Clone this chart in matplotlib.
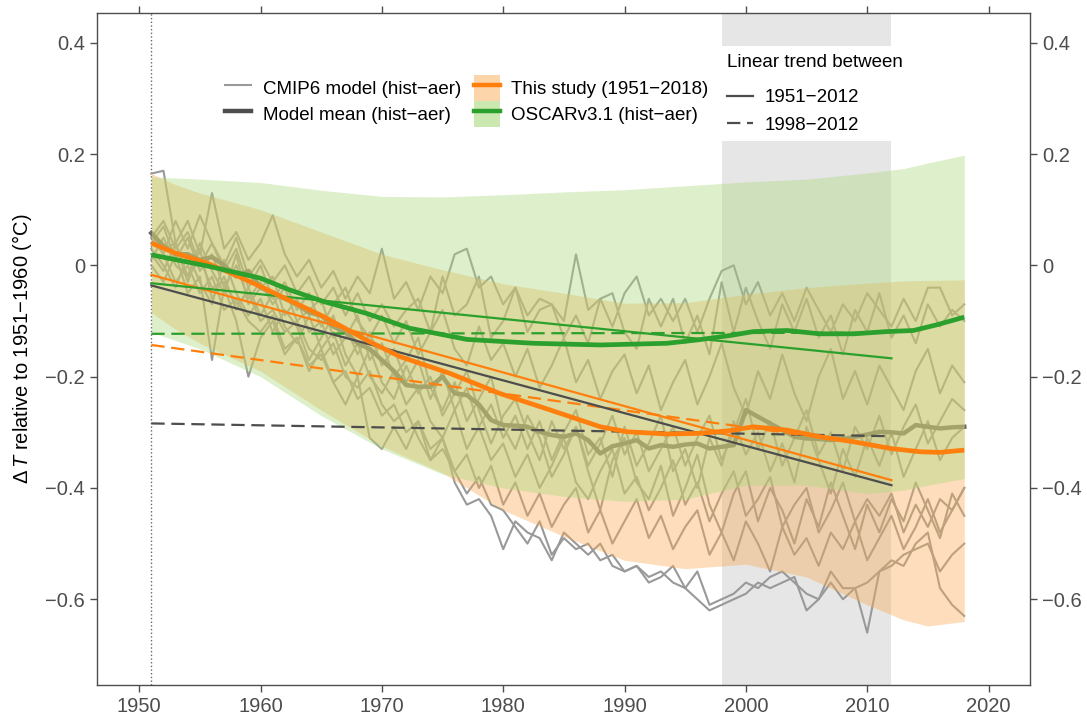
import matplotlib
matplotlib.use("Agg")
import matplotlib.pyplot as plt
import numpy as np
from matplotlib.lines import Line2D
from matplotlib.patches import Patch

plt.rcParams['font.family'] = ['Liberation Sans', 'DejaVu Sans']
plt.rcParams['mathtext.fontset'] = 'custom'
plt.rcParams['mathtext.rm'] = 'Liberation Sans'
plt.rcParams['mathtext.it'] = 'Liberation Sans:italic'

years = np.arange(1951, 2019)

# individual CMIP6 hist-aer runs (rough)
model_a = [0.05, 0.02, -0.03, 0.00, -0.05, -0.02, -0.08, -0.06, -0.10, -0.12,
           -0.09, -0.15, -0.13, -0.18, -0.16, -0.21, -0.19, -0.24, -0.22, -0.27,
           -0.25, -0.30, -0.28, -0.33, -0.31, -0.39, -0.43, -0.42, -0.45, -0.51,
           -0.46, -0.48, -0.49, -0.53, -0.48, -0.50, -0.52, -0.50, -0.54, -0.55,
           -0.54, -0.56, -0.55, -0.57, -0.58, -0.60, -0.62, -0.61, -0.60, -0.59,
           -0.57, -0.58, -0.57, -0.56, -0.62, -0.60, -0.55, -0.58, -0.58, -0.66,
           -0.55, -0.53, -0.54, -0.50, -0.48, -0.58, -0.61, -0.63]
model_b = [0.06, 0.03, 0.04, -0.02, 0.01, -0.04, -0.03, -0.07, -0.05, -0.10,
           -0.08, -0.12, -0.10, -0.15, -0.17, -0.14, -0.20, -0.22, -0.19, -0.25,
           -0.28, -0.26, -0.31, -0.35, -0.33, -0.37, -0.41, -0.38, -0.43, -0.44,
           -0.47, -0.50, -0.46, -0.52, -0.49, -0.51, -0.50, -0.53, -0.52, -0.55,
           -0.54, -0.57, -0.56, -0.54, -0.58, -0.55, -0.61, -0.60, -0.59, -0.57,
           -0.58, -0.56, -0.55, -0.57, -0.59, -0.60, -0.57, -0.60, -0.58, -0.57,
           -0.55, -0.54, -0.52, -0.51, -0.50, -0.55, -0.52, -0.50]
model_c = [0.165, 0.17, 0.04, 0.08, 0.02, 0.13, 0.03, 0.06, 0.01, 0.04,
           0.09, 0.02, -0.02, 0.01, -0.04, -0.01, -0.06, -0.02, -0.05, 0.03,
           -0.06, -0.03, -0.08, -0.02, -0.05, 0.02, 0.03, -0.04, -0.02, -0.07,
           -0.04, -0.09, -0.06, -0.07, -0.10, 0.02, -0.08, -0.06, -0.11, -0.05,
           -0.02, -0.09, -0.06, -0.10, -0.06, -0.12, -0.06, -0.01, 0.00, -0.07,
           -0.03, -0.09, -0.05, -0.10, -0.04, -0.08, -0.12, -0.07, -0.10, -0.05,
           -0.08, -0.11, -0.06, -0.10, -0.04, -0.04, -0.09, -0.07]
model_d = [0.06, 0.02, 0.08, 0.03, 0.09, 0.04, 0.00, 0.05, -0.02, 0.01,
           -0.03, 0.00, -0.05, -0.02, -0.07, -0.04, -0.09, -0.05, -0.10, -0.07,
           -0.11, -0.08, -0.06, -0.12, -0.02, -0.09, -0.07, -0.02, -0.13, -0.10,
           -0.04, -0.12, -0.08, -0.07, -0.13, -0.09, -0.14, -0.06, -0.05, -0.12,
           -0.15, -0.06, -0.11, -0.06, -0.14, -0.09, -0.16, -0.03, -0.12, -0.04,
           -0.10, -0.15, -0.07, -0.12, -0.06, -0.13, -0.09, -0.16, -0.08, -0.12,
           -0.05, -0.13, -0.09, -0.14, -0.07, -0.11, -0.08, -0.10]
model_e = [0.04, 0.07, 0.01, 0.05, -0.01, 0.02, -0.04, 0.00, -0.06, -0.03,
           -0.07, -0.04, -0.10, -0.08, -0.06, -0.13, -0.11, -0.16, -0.12, -0.18,
           -0.15, -0.21, -0.17, -0.24, -0.19, -0.26, -0.22, -0.29, -0.25, -0.31,
           -0.27, -0.33, -0.28, -0.35, -0.30, -0.26, -0.34, -0.31, -0.38, -0.29,
           -0.36, -0.32, -0.27, -0.37, -0.33, -0.40, -0.31, -0.36, -0.28, -0.34,
           -0.30, -0.37, -0.32, -0.39, -0.29, -0.35, -0.41, -0.33, -0.38, -0.31,
           -0.36, -0.30, -0.38, -0.33, -0.28, -0.35, -0.31, -0.29]
model_f = [0.02, -0.01, 0.04, -0.03, 0.03, -0.06, -0.02, -0.08, -0.04, -0.09,
           -0.05, -0.11, -0.14, -0.09, -0.15, -0.12, -0.18, -0.14, -0.20, -0.23,
           -0.19, -0.25, -0.22, -0.28, -0.31, -0.26, -0.33, -0.29, -0.35, -0.32,
           -0.38, -0.34, -0.40, -0.36, -0.31, -0.39, -0.42, -0.37, -0.33, -0.41,
           -0.38, -0.44, -0.40, -0.35, -0.43, -0.39, -0.46, -0.41, -0.37, -0.45,
           -0.42, -0.38, -0.47, -0.43, -0.40, -0.48, -0.44, -0.39, -0.46, -0.42,
           -0.45, -0.41, -0.48, -0.43, -0.47, -0.42, -0.44, -0.40]
model_g = [0.03, 0.00, -0.04, 0.02, -0.03, -0.07, 0.01, -0.05, -0.09, -0.06,
           -0.12, -0.08, -0.11, -0.17, -0.13, -0.09, -0.16, -0.20, -0.15, -0.21,
           -0.24, -0.18, -0.23, -0.20, -0.27, -0.23, -0.19, -0.26, -0.32, -0.27,
           -0.24, -0.30, -0.35, -0.28, -0.33, -0.29, -0.36, -0.32, -0.27, -0.34,
           -0.30, -0.37, -0.33, -0.29, -0.36, -0.31, -0.27, -0.35, -0.30, -0.24,
           -0.33, -0.28, -0.36, -0.31, -0.26, -0.34, -0.30, -0.37, -0.29, -0.33,
           -0.27, -0.34, -0.29, -0.25, -0.32, -0.28, -0.24, -0.26]
model_h = [0.01, 0.05, 0.00, -0.02, 0.04, -0.01, -0.05, 0.02, -0.07, -0.04,
           -0.02, -0.09, -0.06, -0.12, -0.10, -0.16, -0.13, -0.09, -0.17, -0.14,
           -0.20, -0.17, -0.13, -0.22, -0.26, -0.21, -0.28, -0.24, -0.20, -0.29,
           -0.33, -0.27, -0.31, -0.38, -0.34, -0.29, -0.37, -0.44, -0.35, -0.31,
           -0.39, -0.42, -0.36, -0.45, -0.40, -0.34, -0.43, -0.48, -0.41, -0.37,
           -0.46, -0.40, -0.44, -0.50, -0.42, -0.47, -0.39, -0.45, -0.51, -0.43,
           -0.48, -0.42, -0.46, -0.39, -0.44, -0.49, -0.41, -0.45]
model_i = [0.00, -0.03, 0.02, -0.05, -0.02, -0.17, -0.04, -0.10, -0.20, -0.13,
           -0.10, -0.16, -0.13, -0.19, -0.15, -0.21, -0.25, -0.20, -0.31, -0.33,
           -0.29, -0.33, -0.28, -0.35, -0.31, -0.37, -0.34, -0.40, -0.36, -0.43,
           -0.39, -0.45, -0.41, -0.47, -0.43, -0.40, -0.48, -0.44, -0.50, -0.46,
           -0.42, -0.49, -0.45, -0.51, -0.47, -0.44, -0.52, -0.48, -0.53, -0.46,
           -0.50, -0.55, -0.47, -0.52, -0.49, -0.54, -0.48, -0.51, -0.46, -0.53,
           -0.49, -0.45, -0.51, -0.47, -0.42, -0.48, -0.44, -0.40]
model_j = [0.05, 0.08, 0.03, 0.06, 0.00, 0.04, -0.01, 0.03, -0.04, 0.00,
           -0.06, -0.03, -0.08, -0.05, -0.11, -0.07, -0.04, -0.10, -0.13, -0.09,
           -0.14, -0.10, -0.16, -0.12, -0.08, -0.15, -0.18, -0.11, -0.17, -0.14,
           -0.20, -0.15, -0.22, -0.18, -0.13, -0.21, -0.17, -0.24, -0.19, -0.16,
           -0.23, -0.18, -0.26, -0.21, -0.17, -0.25, -0.20, -0.14, -0.22, -0.27,
           -0.19, -0.24, -0.16, -0.23, -0.28, -0.20, -0.15, -0.24, -0.19, -0.25,
           -0.18, -0.22, -0.26, -0.19, -0.15, -0.23, -0.18, -0.21]
cmip6_models = [model_a, model_b, model_c, model_d, model_e,
                model_f, model_g, model_h, model_i, model_j]

model_mean = [0.058, 0.035, 0.02, 0.02, 0.01, 0.015, 0.0, -0.02, -0.01, -0.04,
              -0.05, -0.06, -0.07, -0.085, -0.09, -0.11, -0.12, -0.14, -0.15, -0.17,
              -0.19, -0.215, -0.218, -0.218, -0.20, -0.23, -0.233, -0.25, -0.278, -0.287,
              -0.288, -0.29, -0.299, -0.305, -0.308, -0.302, -0.314, -0.338, -0.325, -0.32,
              -0.314, -0.329, -0.323, -0.326, -0.322, -0.32, -0.329, -0.326, -0.323, -0.26,
              -0.272, -0.284, -0.296, -0.308, -0.311, -0.312, -0.314, -0.312, -0.308, -0.304,
              -0.299, -0.30, -0.302, -0.287, -0.29, -0.293, -0.291, -0.290]

# smoothed central estimates
study_years = [1951, 1953, 1955.6, 1958, 1960, 1962.5, 1965.2, 1968.7, 1971.5, 1975.6,
               1979.7, 1983.9, 1988.0, 1990.2, 1993.5, 1996, 1998.7, 2000.6, 2003.4,
               2006.1, 2008.9, 2011.9, 2014.4, 2016, 2018]
study_mean = [0.040, 0.022, 0.004, -0.018, -0.038, -0.064, -0.092, -0.134, -0.164, -0.194,
              -0.230, -0.260, -0.290, -0.299, -0.303, -0.302, -0.297, -0.290, -0.296,
              -0.308, -0.317, -0.329, -0.335, -0.336, -0.332]
oscar_years = [1951, 1955.6, 1960, 1962.4, 1965.2, 1968.7, 1972.3, 1974.2, 1977, 1982.5,
               1988, 1993.5, 1996, 1998.7, 2000.6, 2003.4, 2006.1, 2008.9, 2011.6,
               2013.8, 2015.7, 2018]
oscar_mean = [0.019, -0.001, -0.023, -0.044, -0.065, -0.086, -0.113, -0.121, -0.133, -0.140,
              -0.143, -0.140, -0.134, -0.126, -0.119, -0.117, -0.123, -0.123, -0.119,
              -0.117, -0.107, -0.093]

# uncertainty ranges
band_years = [1951, 1953, 1955, 1960, 1965, 1970, 1975, 1980, 1985, 1990, 1995,
              2000, 2005, 2010, 2013, 2015, 2018]
study_hi = [0.165, 0.145, 0.13, 0.10, 0.06, 0.02, -0.008, -0.033, -0.05, -0.068, -0.067,
            -0.052, -0.04, -0.032, -0.028, -0.027, -0.026]
study_lo = [-0.085, -0.115, -0.14, -0.19, -0.26, -0.325, -0.373, -0.44, -0.487, -0.53, -0.545,
            -0.537, -0.56, -0.61, -0.637, -0.648, -0.64]
oscar_hi = [0.159, 0.157, 0.155, 0.149, 0.135, 0.124, 0.123, 0.127, 0.132, 0.136, 0.143,
            0.150, 0.155, 0.166, 0.174, 0.184, 0.198]
oscar_lo = [-0.12, -0.135, -0.15, -0.20, -0.27, -0.33, -0.375, -0.40, -0.415, -0.424, -0.42,
            -0.395, -0.395, -0.41, -0.404, -0.395, -0.383]

# linear trends, drawn over 1951-2012
trend_years = [1951, 2012]
trend_full_model = [-0.036, -0.395]
trend_full_study = [-0.017, -0.386]
trend_full_oscar = [-0.032, -0.167]
trend_recent_model = [-0.284, -0.307]
trend_recent_study = [-0.143, -0.327]
trend_recent_oscar = [-0.123, -0.121]

yticks = [-0.6, -0.4, -0.2, 0, 0.2, 0.4]
ytick_labels = ['\u22120.6', '\u22120.4', '\u22120.2', '0', '0.2', '0.4']
xticks = [1950, 1960, 1970, 1980, 1990, 2000, 2010, 2020]

c_orange = '#ff7f0e'
c_green = '#2ca02c'
c_dark = '#4d4d4d'
fill_orange = '#faac55'
fill_green = '#aad97d'

fig = plt.figure(figsize=(10.87, 7.15), dpi=100)
ax = fig.add_axes([0.089, 0.042, 0.8587, 0.9394])

ax.axvspan(1998, 2012, color='#e6e6e6', lw=0, zorder=0)
ax.axvline(1951, color='#666666', ls=':', lw=1, zorder=0.5)

for m in cmip6_models:
    ax.plot(years, m, color='#999999', lw=1.5, zorder=1)
ax.plot(years, model_mean, color='#666666', lw=3.2, zorder=1.5)

ax.fill_between(band_years, study_lo, study_hi, color=fill_orange, alpha=0.4, lw=0, zorder=2)
ax.fill_between(band_years, oscar_lo, oscar_hi, color=fill_green, alpha=0.4, lw=0, zorder=2.1)

ax.plot(trend_years, trend_recent_model, color=c_dark, lw=1.6, ls=(0, (6, 3)), zorder=3)
ax.plot(trend_years, trend_recent_study, color=c_orange, lw=1.6, ls=(0, (6, 3)), zorder=3)
ax.plot(trend_years, trend_recent_oscar, color=c_green, lw=1.6, ls=(0, (6, 3)), zorder=3)
ax.plot(trend_years, trend_full_model, color=c_dark, lw=1.6, zorder=3.1)
ax.plot(trend_years, trend_full_study, color=c_orange, lw=1.6, zorder=3.1)
ax.plot(trend_years, trend_full_oscar, color=c_green, lw=1.6, zorder=3.1)

ax.plot(study_years, study_mean, color=c_orange, lw=3.4, zorder=4, solid_capstyle='butt')
ax.plot(oscar_years, oscar_mean, color=c_green, lw=3.4, zorder=4.1, solid_capstyle='butt')

ax.set_xlim(1946.5, 2023.43)
ax.set_ylim(-0.754, 0.453)
ax.set_xticks(xticks)
ax.set_yticks(yticks)
ax.set_yticklabels(ytick_labels)
ax.tick_params(axis='both', which='both', direction='out', length=5, width=1,
               color='#4d4d4d', labelcolor='#4d4d4d', labelsize=14.5,
               top=True, right=True, labelright=True)
for s in ax.spines.values():
    s.set_color('#4d4d4d')
    s.set_linewidth(1)
ax.set_ylabel(r'$\Delta\,T$ relative to 1951$-$1960 (°C)', fontsize=14.5, labelpad=8)

h1 = [Line2D([], [], color='#999999', lw=1.5),
      Line2D([], [], color=c_dark, lw=3.2),
      (Patch(facecolor='#fdd5aa', edgecolor='none'), Line2D([], [], color=c_orange, lw=3.2)),
      (Patch(facecolor='#cbe8b1', edgecolor='none'), Line2D([], [], color=c_green, lw=3.2))]
l1 = ['CMIP6 model (hist\u2212aer)', 'Model mean (hist\u2212aer)',
      'This study (1951\u22122018)', 'OSCARv3.1 (hist\u2212aer)']
leg1 = ax.legend(h1, l1, ncol=2, loc='upper left', bbox_to_anchor=(0.207, 0.895),
                 bbox_transform=fig.transFigure, frameon=False, fontsize=13.5,
                 handlelength=1.4, handleheight=1.75, handletextpad=0.6,
                 columnspacing=0.7, labelspacing=0.0, borderaxespad=0, borderpad=0)
ax.add_artist(leg1)

h2 = [Line2D([], [], color=c_dark, lw=1.6),
      Line2D([], [], color=c_dark, lw=1.6, ls=(0, (6, 3)))]
l2 = ['1951\u22122012', '1998\u22122012']
leg2 = ax.legend(h2, l2, title='Linear trend between', loc='upper left',
                 bbox_to_anchor=(0.662, 0.935), bbox_transform=fig.transFigure,
                 frameon=True, fancybox=False, fontsize=13.5, title_fontsize=13.5,
                 handlelength=1.4, handletextpad=0.6, labelspacing=0.55,
                 borderaxespad=0, borderpad=0.4, alignment='left')
leg2._legend_box.sep = 13
leg2.get_frame().set_facecolor('white')
leg2.get_frame().set_edgecolor('none')
leg2.get_frame().set_alpha(1)

fig.savefig('out.png', dpi=100)
